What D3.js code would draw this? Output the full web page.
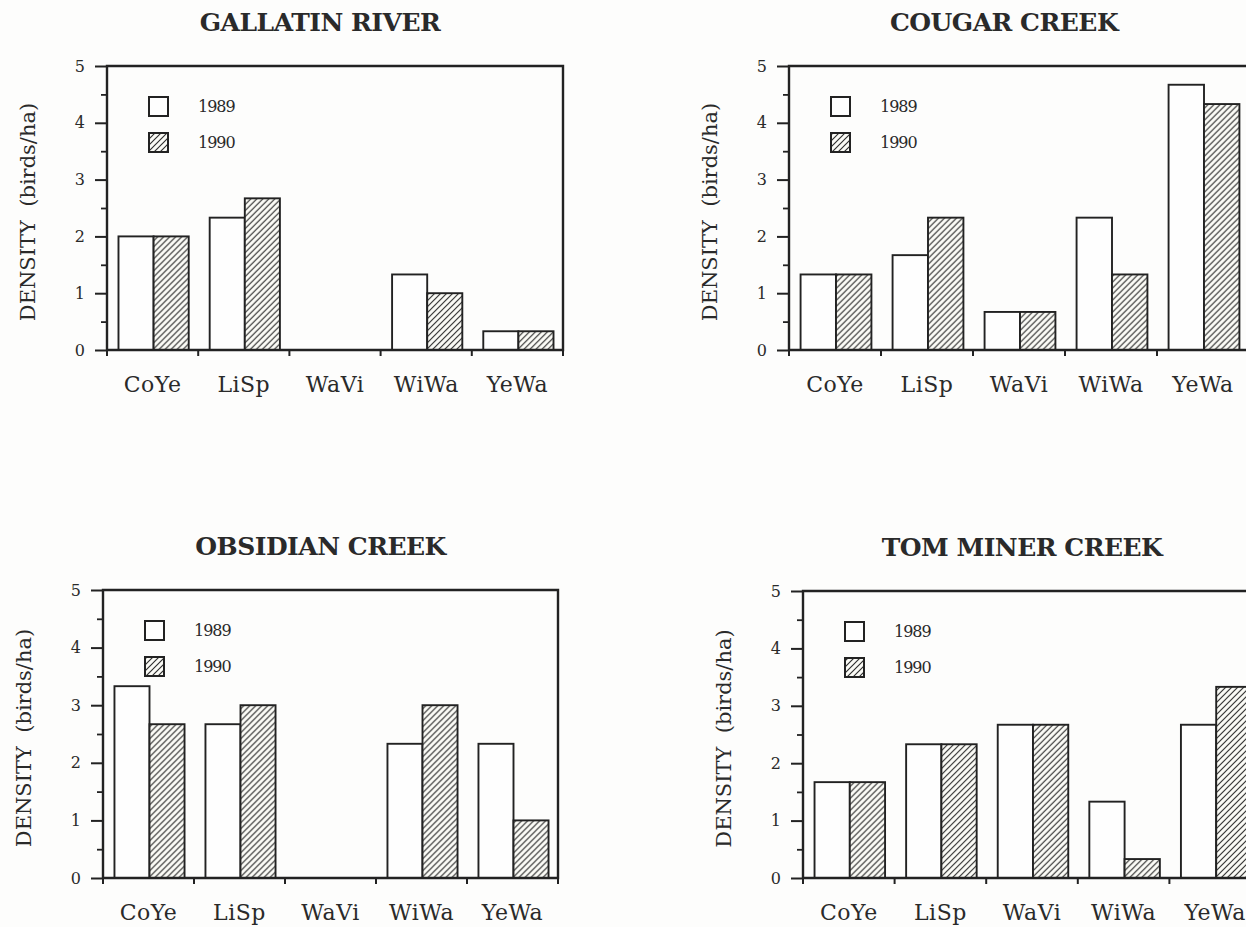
<!DOCTYPE html>
<html>
<head>
<meta charset="utf-8">
<script src="https://cdn.jsdelivr.net/npm/d3@7"></script>
<style>
  html, body { margin: 0; padding: 0; background: #fdfdfc; }
  svg { display: block; }
  text { font-family: "DejaVu Serif", "Liberation Serif", serif; fill: #2a2a2a; }
</style>
</head>
<body>
<svg id="chart" width="1246" height="927"></svg>
<script>
// ---- data ----
const categories = ["CoYe", "LiSp", "WaVi", "WiWa", "YeWa"];
const years = ["1989", "1990"];
const yTicks = [0, 1, 2, 3, 4, 5];
const yMinorTicks = [0.5, 1.5, 2.5, 3.5, 4.5];
const siteTitles = ["GALLATIN RIVER", "COUGAR CREEK", "OBSIDIAN CREEK", "TOM MINER CREEK"];
const yAxisLabel = "DENSITY  (birds/ha)";

const gallatin1989 = [2.00, 2.33, 0, 1.33, 0.33];
const gallatin1990 = [2.00, 2.67, 0, 1.00, 0.33];
const cougar1989   = [1.33, 1.67, 0.67, 2.33, 4.67];
const cougar1990   = [1.33, 2.33, 0.67, 1.33, 4.33];
const obsidian1989 = [3.33, 2.67, 0, 2.33, 2.33];
const obsidian1990 = [2.67, 3.00, 0, 3.00, 1.00];
const tomMiner1989 = [1.67, 2.33, 2.67, 1.33, 2.67];
const tomMiner1990 = [1.67, 2.33, 2.67, 0.33, 3.33];

const seriesBySite = [
  [gallatin1989, gallatin1990],
  [cougar1989, cougar1990],
  [obsidian1989, obsidian1990],
  [tomMiner1989, tomMiner1990]
];

// ---- layout (positions only) ----
const panels = [
  { x0: 107, x1: 563,  y0: 66,  y1: 350, titleDx: -15 },
  { x0: 789, x1: 1249, y0: 66,  y1: 350, titleDx: -15 },
  { x0: 103, x1: 558,  y0: 590, y1: 878, titleDx: -10 },
  { x0: 803, x1: 1261, y0: 591, y1: 878, titleDx: -10 }
];

const ink = "#222";
const svg = d3.select("#chart");

const defs = svg.append("defs");
const pat = defs.append("pattern")
  .attr("id", "hatch")
  .attr("patternUnits", "userSpaceOnUse")
  .attr("width", 6).attr("height", 6);
pat.append("rect").attr("width", 6).attr("height", 6).attr("fill", "#fbfbf6");
pat.append("path")
  .attr("d", "M-1,1 l2,-2 M0,6 l6,-6 M5,7 l2,-2")
  .attr("stroke", "#2e2e2e").attr("stroke-width", 1.15);

panels.forEach((p, i) => {
  const g = svg.append("g");
  const x = d3.scaleBand().domain(categories).range([p.x0, p.x1]).paddingInner(0).paddingOuter(0);
  const y = d3.scaleLinear().domain([0, 5]).range([p.y1, p.y0]);
  const sub = d3.scaleBand().domain(years).range([0, x.bandwidth() * 0.77]);
  const groupOffset = (x.bandwidth() - x.bandwidth() * 0.77) / 2 + 1;

  // title
  g.append("text")
    .attr("x", (p.x0 + p.x1) / 2 + p.titleDx)
    .attr("y", p.y0 - 35)
    .attr("text-anchor", "middle")
    .attr("font-size", 25)
    .attr("font-weight", "bold")
    .style("letter-spacing", "-0.5px")
    .text(siteTitles[i]);

  // y axis label
  g.append("text")
    .attr("transform", `translate(${p.x0 - 72},${(p.y0 + p.y1) / 2 + 4}) rotate(-90)`)
    .attr("text-anchor", "middle")
    .attr("font-size", 21)
    .style("white-space", "pre")
    .text(yAxisLabel);

  // bars
  const rows = categories.map((c, k) => ({ c, vals: years.map((yr, s) => ({ yr, s, v: seriesBySite[i][s][k] })) }));
  const grp = g.selectAll("g.cat").data(rows).enter().append("g")
    .attr("transform", d => `translate(${x(d.c) + groupOffset},0)`);
  grp.selectAll("rect").data(d => d.vals.filter(e => e.v > 0)).enter().append("rect")
    .attr("x", d => sub(d.yr))
    .attr("y", d => y(d.v))
    .attr("width", sub.bandwidth())
    .attr("height", d => y(0) - y(d.v))
    .attr("fill", d => d.s === 0 ? "#fefefe" : "url(#hatch)")
    .attr("stroke", ink)
    .attr("stroke-width", 1.9);

  // y axis major ticks + labels
  const yAxis = d3.axisLeft(y).tickValues(yTicks).tickSize(12).tickPadding(10).tickFormat(d3.format("d"));
  const ya = g.append("g").attr("transform", `translate(${p.x0},0)`).call(yAxis);
  ya.select(".domain").remove();
  ya.selectAll("line").attr("stroke", ink).attr("stroke-width", 2);
  ya.selectAll("text").attr("font-size", 16).attr("fill", "#2a2a2a")
    .style("font-family", '"DejaVu Serif", serif');

  // y minor ticks
  const yMinor = d3.axisLeft(y).tickValues(yMinorTicks).tickSize(6).tickFormat("");
  const ym = g.append("g").attr("transform", `translate(${p.x0},0)`).call(yMinor);
  ym.select(".domain").remove();
  ym.selectAll("line").attr("stroke", ink).attr("stroke-width", 1.8);

  // x axis labels
  const xAxis = d3.axisBottom(x).tickSize(0).tickPadding(0);
  const xa = g.append("g").attr("transform", `translate(0,${p.y1})`).call(xAxis);
  xa.select(".domain").remove();
  xa.selectAll("text")
    .attr("y", 42).attr("dy", 0)
    .attr("font-size", 22).attr("fill", "#2a2a2a")
    .style("font-family", '"DejaVu Serif", serif')
    .style("letter-spacing", "0.5px");

  // x boundary ticks
  const bounds = d3.range(categories.length + 1).map(k => p.x0 + k * x.step());
  g.selectAll("line.xb").data(bounds).enter().append("line")
    .attr("x1", d => d).attr("x2", d => d)
    .attr("y1", p.y1).attr("y2", p.y1 + 6)
    .attr("stroke", ink).attr("stroke-width", 2);

  // frame
  g.append("path")
    .attr("d", `M${p.x0},${p.y1} V${p.y0} H${p.x1} V${p.y1} H${p.x0}`)
    .attr("fill", "none").attr("stroke", ink).attr("stroke-width", 2.4);

  // legend
  const lx = p.x0 + 42, ly = p.y0 + 31;
  years.forEach((yr, s) => {
    g.append("rect")
      .attr("x", lx).attr("y", ly + s * 36)
      .attr("width", 19).attr("height", 19)
      .attr("fill", s === 0 ? "#fefefe" : "url(#hatch)")
      .attr("stroke", ink).attr("stroke-width", 2);
    g.append("text")
      .attr("x", lx + 49).attr("y", ly + 15 + s * 36)
      .attr("font-size", 16)
      .style("letter-spacing", "-1px")
      .text(yr);
  });
});
</script>
</body>
</html>
